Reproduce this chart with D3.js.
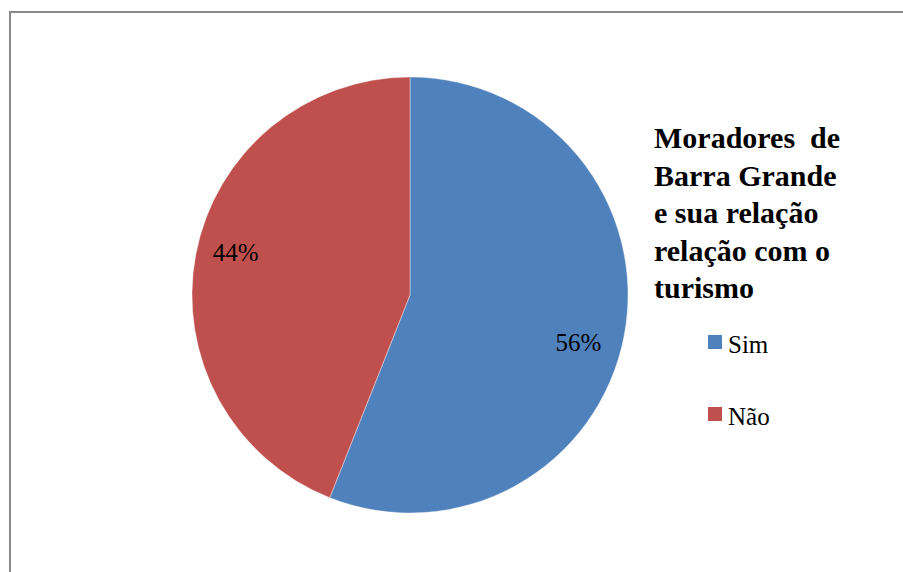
<!DOCTYPE html>
<html>
<head>
<meta charset="utf-8">
<script src="https://cdn.jsdelivr.net/npm/d3@7"></script>
<style>
html,body{margin:0;padding:0;background:#fff;}
svg{display:block;}
</style>
</head>
<body>
<svg id="chart" width="903" height="572"></svg>
<script>
const categories = ["Sim", "Não"];
const values = [56, 44];
const labels = ["56%", "44%"];
const colors = ["#4F81BD", "#C0504D"];
const titleLines = ["Moradores\u00A0 de", "Barra Grande", "e sua relação", "relação com o", "turismo"];
const FONT = "Times New Roman";

const svg = d3.select("#chart");
const W = 903, H = 572;
svg.append("rect").attr("width", W).attr("height", H).attr("fill", "#fff");

// frame
svg.append("rect")
  .attr("x", 10).attr("y", 12)
  .attr("width", W + 20).attr("height", H + 20)
  .attr("fill", "none").attr("stroke", "#898989").attr("stroke-width", 2);

const cx = 410, cy = 295, r = 218;
const pie = d3.pie().sort(null).value(d => d);
const arcs = pie(values);
const arc = d3.arc().innerRadius(0).outerRadius(r);

const g = svg.append("g").attr("transform", `translate(${cx},${cy})`);
g.selectAll("path").data(arcs).enter().append("path")
  .attr("d", arc)
  .attr("fill", (d, i) => colors[i])
  .attr("stroke", "#ffffff")
  .attr("stroke-opacity", 0.5)
  .attr("stroke-width", 0.75);

const labelArc = d3.arc().innerRadius(r * 0.8).outerRadius(r * 0.8);
const labelOffsets = [[-3, 23], [-3, -1]];
g.selectAll("text.lbl").data(arcs).enter().append("text")
  .attr("class", "lbl")
  .attr("x", (d, i) => labelArc.centroid(d)[0] + labelOffsets[i][0])
  .attr("y", (d, i) => labelArc.centroid(d)[1] + labelOffsets[i][1])
  .attr("text-anchor", "middle")
  .style("font-family", FONT)
  .attr("font-size", 25)
  .attr("fill", "#000")
  .text((d, i) => labels[i]);

// title
const title = svg.append("text")
  .style("font-family", FONT)
  .attr("font-weight", "bold")
  .attr("font-size", 30)
  .attr("fill", "#000");
titleLines.forEach((t, i) => {
  title.append("tspan").attr("x", 654).attr("y", 148 + i * 37.5).text(t);
});

// legend
const leg = svg.append("g");
categories.forEach((c, i) => {
  const y = 335 + i * 72;
  leg.append("rect").attr("x", 708).attr("y", y).attr("width", 14).attr("height", 14).attr("fill", colors[i]);
  leg.append("text").attr("x", 728).attr("y", y + 18)
    .style("font-family", FONT)
    .attr("font-size", 25).attr("fill", "#000").text(c);
});
</script>
</body>
</html>
